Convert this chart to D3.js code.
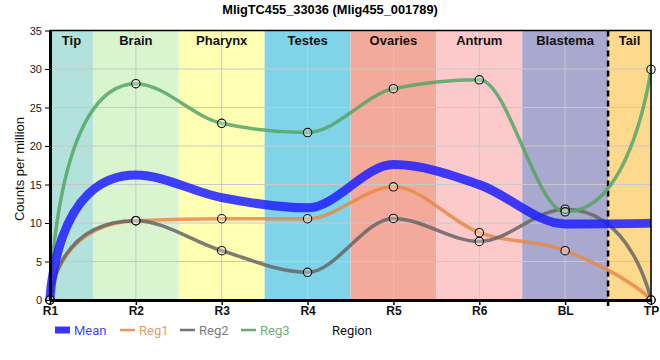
<!DOCTYPE html>
<html><head><meta charset="utf-8">
<script src="https://cdn.jsdelivr.net/npm/d3@7"></script>
<style>body{margin:0;background:#fff}svg{display:block;font-family:"Liberation Sans",Arial,sans-serif}</style>
</head><body><svg id="c" width="660" height="360"></svg>
<script>
const categories = ["R1","R2","R3","R4","R5","R6","BL","TP"];
const regions = ["Tip","Brain","Pharynx","Testes","Ovaries","Antrum","Blastema","Tail"];
const regionColors = ["#b3e2dd","#d9f5d0","#ffffb3","#80d4ea","#f4aa9b","#fdcacb","#a9a8ce","#fdd98d"];
const reg1 = [0,10.3,10.55,10.55,14.7,8.75,6.4,0];
const reg2 = [0,10.3,6.4,3.6,10.6,7.6,11.8,0];
const reg3 = [0,28.1,22.95,21.75,27.45,28.6,11.45,29.95];
const meanVals = categories.map((c,i)=> (reg1[i]+reg2[i]+reg3[i])/3);
const yTicks = [0,5,10,15,20,25,30,35];
const seriesNames = ["Mean","Reg1","Reg2","Reg3"];
const seriesColors = ["#1f1fff","#e8894a","#666666","#55a466"];

// monotone interior with stretched end handles
function smoothCurve(kFirst,kLast){
  return function(context){
    let pts;
    return {
      areaStart(){}, areaEnd(){},
      lineStart(){pts=[];},
      point(x,y){pts.push([+x,+y]);},
      lineEnd(){
        const n=pts.length; if(!n) return;
        context.moveTo(pts[0][0],pts[0][1]);
        if(n<2) return;
        const s=[]; for(let i=0;i<n-1;i++) s.push((pts[i+1][1]-pts[i][1])/(pts[i+1][0]-pts[i][0]));
        const t=new Array(n).fill(0);
        for(let i=1;i<n-1;i++){
          const h0=pts[i][0]-pts[i-1][0], h1=pts[i+1][0]-pts[i][0];
          const p=(s[i-1]*h1+s[i]*h0)/(h0+h1);
          t[i]=(Math.sign(s[i-1])+Math.sign(s[i]))*Math.min(Math.abs(s[i-1]),Math.abs(s[i]),0.5*Math.abs(p))||0;
        }
        const clampY=(v,a,b)=>Math.max(Math.min(v,Math.max(a,b)),Math.min(a,b));
        for(let i=0;i<n-1;i++){
          const x0=pts[i][0],y0=pts[i][1],x1=pts[i+1][0],y1=pts[i+1][1],h=x1-x0;
          let c0x=x0+h/3,c0y=y0+h/3*t[i],c1x=x1-h/3,c1y=y1-h/3*t[i+1];
          if(i===0){c0x=x0;c0y=y0; if(n>2){c1x=x1-kFirst*h;c1y=clampY(y1-kFirst*h*t[1],y0,y1);} }
          if(i===n-2){c1x=x1;c1y=y1; if(n>2){c0x=x0+kLast*h;c0y=clampY(y0+kLast*h*t[i],y0,y1);} }
          context.bezierCurveTo(c0x,c0y,c1x,c1y,x1,y1);
        }
      }
    };
  };
}

const svg = d3.select("#c");
const L=50,R=651,T=30.5,B=300;
const x = d3.scalePoint().domain(categories).range([L,R]);
const y = d3.scaleLinear().domain([0,35]).range([B,T]);
const step = x.step();
const bandX0 = i => Math.max(L, x(categories[i])-step/2);
const bandX1 = i => Math.min(R, x(categories[i])+step/2);

// region bands
svg.append("g").selectAll("rect").data(regions).join("rect")
  .attr("x",(d,i)=>bandX0(i)).attr("y",T).attr("width",(d,i)=>bandX1(i)-bandX0(i)).attr("height",B-T)
  .attr("fill",(d,i)=>regionColors[i]);
// grid
svg.append("g").selectAll("line").data(yTicks).join("line")
  .attr("x1",L).attr("x2",R).attr("y1",d=>y(d)).attr("y2",d=>y(d)).attr("stroke","#c8c8c8").attr("stroke-width",1);
svg.append("g").selectAll("line").data(categories).join("line")
  .attr("x1",d=>x(d)).attr("x2",d=>x(d)).attr("y1",T).attr("y2",B).attr("stroke","#c8c8c8").attr("stroke-width",1);
// region labels
svg.append("g").selectAll("text").data(regions).join("text")
  .attr("x",(d,i)=>(bandX0(i)+bandX1(i))/2)
  .attr("y",45).attr("text-anchor","middle").attr("font-weight","bold").attr("font-size",13).attr("fill","#111").text(d=>d);
// dashed line between BL and TP
const dx = x("BL")+step/2;
svg.append("line").attr("x1",dx).attr("x2",dx).attr("y1",T).attr("y2",B+6).attr("stroke","#000").attr("stroke-width",2.5).attr("stroke-dasharray","6,4");

const line = d3.line().x((d,i)=>x(categories[i])).y(d=>y(d)).curve(smoothCurve(0.95,0.78));
const all = [meanVals,reg1,reg2,reg3];
[1,2,3,0].forEach(k=>{
  svg.append("path").attr("d",line(all[k])).attr("fill","none").attr("stroke",seriesColors[k])
    .attr("stroke-width",k===0?9:3.5).attr("stroke-opacity",0.85).attr("stroke-linejoin","round");
});
[1,2,3].forEach(k=>{
  svg.append("g").selectAll("circle").data(all[k]).join("circle")
    .attr("cx",(d,i)=>x(categories[i])).attr("cy",d=>y(d)).attr("r",4.2)
    .attr("fill","rgba(255,255,255,0.3)").attr("stroke","#111").attr("stroke-width",1.1);
});

// border
svg.append("rect").attr("x",L).attr("y",T).attr("width",R-L).attr("height",B-T).attr("fill","none").attr("stroke","#000").attr("stroke-width",1.5);
// axes
const ya = svg.append("g").attr("transform",`translate(${L},0)`).call(d3.axisLeft(y).tickValues(yTicks).tickSize(5).tickSizeOuter(0));
ya.select(".domain").attr("stroke-width",3);
ya.selectAll("text").attr("font-size",11).attr("fill","#222").attr("font-family","Liberation Sans, Arial, sans-serif");
const xa = svg.append("g").attr("transform",`translate(0,${B})`).call(d3.axisBottom(x).tickSize(5).tickSizeOuter(0));
xa.select(".domain").attr("stroke-width",3);
xa.selectAll("line").attr("stroke-width",1.5);
xa.selectAll("text").attr("font-size",12).attr("font-weight","bold").attr("fill","#111").attr("dy","0.6em").attr("font-family","Liberation Sans, Arial, sans-serif");

// title
svg.append("text").attr("x",330).attr("y",14).attr("text-anchor","middle").attr("font-weight","bold").attr("font-size",12.8).text("MligTC455_33036 (Mlig455_001789)");
// y label
svg.append("text").attr("transform","translate(24,169) rotate(-90)").attr("text-anchor","middle").attr("font-size",13).attr("fill","#111").text("Counts per million");

// legend
const lx = [55,120,180,241];
seriesNames.forEach((n,i)=>{
  const g = svg.append("g").attr("transform",`translate(${lx[i]},330)`);
  if(i===0) g.append("rect").attr("x",0).attr("y",-3.5).attr("width",15).attr("height",7).attr("fill",seriesColors[0]).attr("opacity",0.9);
  else g.append("line").attr("x1",0).attr("x2",15).attr("y1",0).attr("y2",0).attr("stroke",seriesColors[i]).attr("stroke-width",2.5).attr("opacity",0.9);
  g.append("text").attr("x",19).attr("y",5).attr("font-size",13).attr("font-family","Roboto, sans-serif").attr("fill",seriesColors[i]).attr("opacity",0.85).text(n);
});
svg.append("text").attr("x",332).attr("y",335).attr("font-size",13).attr("font-family","Roboto, sans-serif").attr("fill","#111").text("Region");
</script></body></html>
